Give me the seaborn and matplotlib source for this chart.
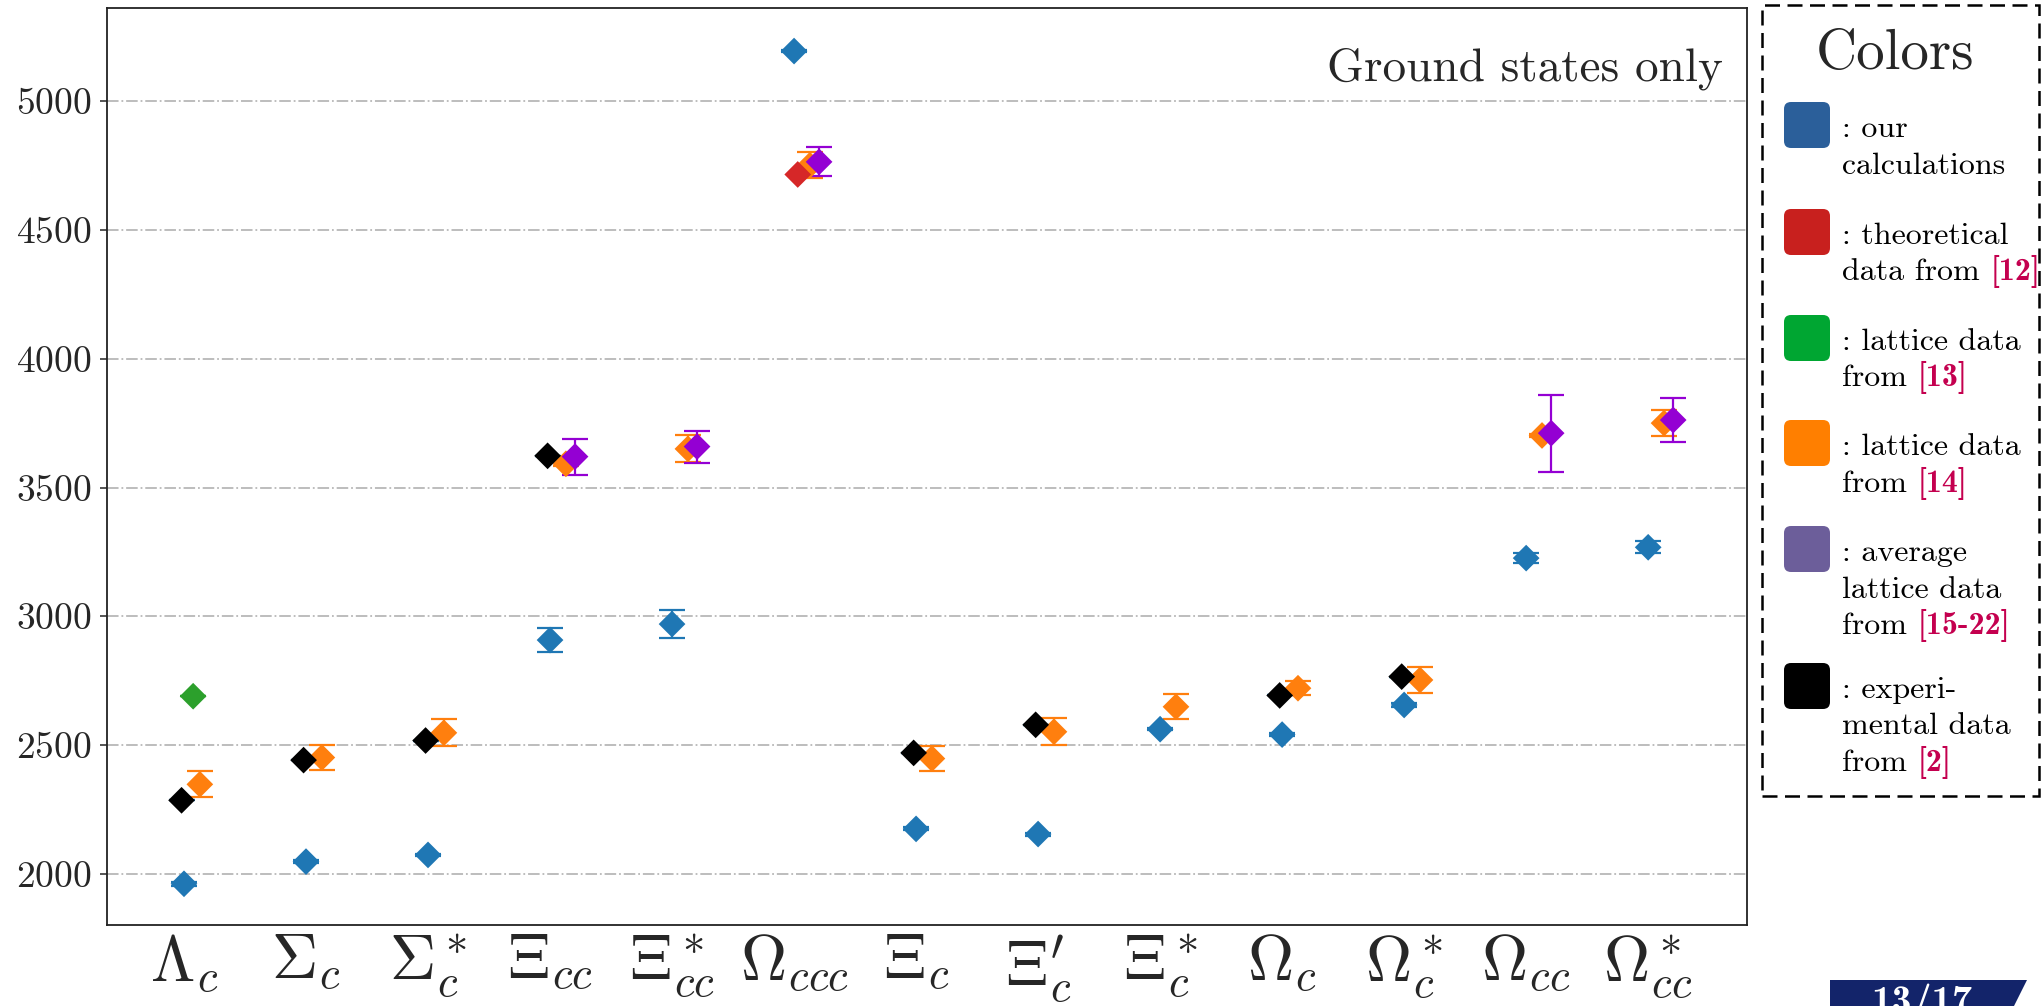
import numpy as np
import pandas as pd
import matplotlib
matplotlib.use("Agg")
import matplotlib.pyplot as plt
import seaborn as sns
from matplotlib.patches import FancyBboxPatch, Rectangle, Polygon
from matplotlib.transforms import IdentityTransform

# ---------------- data ----------------
categories = [r'$\Lambda_c$', r'$\Sigma_c$', r'$\Sigma_c^*$', r'$\Xi_{cc}$', r'$\Xi_{cc}^*$',
              r'$\Omega_{ccc}$', r'$\Xi_c$', r"$\Xi_c'$", r'$\Xi_c^*$', r'$\Omega_c$',
              r'$\Omega_c^*$', r'$\Omega_{cc}$', r'$\Omega_{cc}^*$']
nan = np.nan
ours_mass = [1962, 2048, 2074, 2908, 2970, 5194, 2175, 2155, 2562, 2541, 2656, 3226, 3268]
ours_err = [7, 6, 5, 47, 56, 5, 6, 6, 5, 6, 6, 20, 23]
theory12_mass = [nan, nan, nan, nan, nan, 4715, nan, nan, nan, nan, nan, nan, nan]
theory12_err = [nan] * 13
lattice13_mass = [2690, nan, nan, nan, nan, nan, nan, nan, nan, nan, nan, nan, nan]
lattice13_err = [0, nan, nan, nan, nan, nan, nan, nan, nan, nan, nan, nan, nan]
lattice14_mass = [2348, 2452, 2548, 3592, 3650, 4751, 2448, 2552, 2649, 2721, 2753, 3702, 3750]
lattice14_err = [50, 49, 52, 10, 52, 51, 50, 53, 48, 27, 52, 6, 49]
average_mass = [nan, nan, nan, 3620, 3659, 4764, nan, nan, nan, nan, nan, 3711, 3762]
average_err = [nan, nan, nan, 70, 62, 56, nan, nan, nan, nan, nan, 149, 86]
exp_mass = [2286, 2442, 2518, 3623, nan, nan, 2470, 2579, nan, 2693, 2766, nan, nan]
exp_err = [0, 0, 0, 0, nan, nan, 0, 0, nan, 0, 0, nan, nan]

sources = ["ours", "lattice13", "lattice14", "theory12", "exp", "average"]
series = {
    "ours": (ours_mass, ours_err),
    "lattice13": (lattice13_mass, lattice13_err),
    "lattice14": (lattice14_mass, lattice14_err),
    "theory12": (theory12_mass, theory12_err),
    "exp": (exp_mass, exp_err),
    "average": (average_mass, average_err),
}
# style (not data)
offsets = {"ours": 0.0, "theory12": 0.03, "lattice13": 0.075, "lattice14": 0.13,
           "exp": -0.02, "average": 0.205}
marker_colors = {"ours": "#1f77b4", "theory12": "#d62728", "lattice13": "#2ca02c",
                 "lattice14": "#ff7f0e", "exp": "#000000", "average": "#9400d3"}
err_colors = {"ours": "#1f77b4", "theory12": None, "lattice13": "#2ca02c",
              "lattice14": "#ff7f0e", "exp": "#1f77b4", "average": "#9400d3"}

rows = []
for s in sources:
    m, e = series[s]
    for i, (mv, ev) in enumerate(zip(m, e)):
        if not np.isnan(mv):
            rows.append({"cat": i, "x": i + offsets[s], "mass": mv, "err": ev, "source": s})
df = pd.DataFrame(rows)

# ---------------- style ----------------
sns.set_style("white")
plt.rcParams["font.family"] = ["cmr10", "DejaVu Serif"]
plt.rcParams["mathtext.fontset"] = "cm"
plt.rcParams["axes.unicode_minus"] = False
plt.rcParams["axes.formatter.use_mathtext"] = True

W, H = 2043, 1006
fig = plt.figure(figsize=(W / 100, H / 100), dpi=100)
fig.patch.set_facecolor("white")
ax = fig.add_axes([107 / W, 1 - 925 / H, (1747 - 107) / W, (925 - 8.3) / H])

# grid
ax.set_axisbelow(True)
ax.yaxis.grid(True, linestyle="-.", color="#b8b8b8", linewidth=1.3)
ax.xaxis.grid(False)

# error bars
for s in sources:
    d = df[df["source"] == s]
    if err_colors[s] is None or d["err"].isna().all():
        continue
    ax.errorbar(d["x"], d["mass"], yerr=d["err"].fillna(0), fmt="none",
                ecolor=err_colors[s], elinewidth=1.6, capsize=9.5, capthick=1.6, zorder=2)

# markers
sns.scatterplot(data=df, x="x", y="mass", hue="source", palette=marker_colors,
                hue_order=sources, marker="D", s=185, linewidth=0, legend=False,
                ax=ax, zorder=3)

ax.set_xlim(-0.631, 12.81)
ax.set_ylim(1802, 5360)
ax.set_xticks(range(len(categories)))
ax.set_xticklabels(categories, fontsize=46)
ax.set_yticks([2000, 2500, 3000, 3500, 4000, 4500, 5000])
ax.tick_params(axis="y", labelsize=27, length=5, width=1.1, direction="out", left=True, pad=6)
ax.tick_params(axis="x", length=0, pad=6)
ax.set_xlabel("")
ax.set_ylabel("")
for sp in ax.spines.values():
    sp.set_color("#222222")
    sp.set_linewidth(1.3)

ax.text(0.985, 0.921, "Ground states only", transform=ax.transAxes, ha="right",
        va="baseline", fontsize=34)

# ---------------- legend box ----------------
T = IdentityTransform()
fig.add_artist(Rectangle((1762, H - 796), 2039 - 1762, 796 - 5, transform=T, fill=False,
                         linestyle=(0, (6, 3)), linewidth=1.8, edgecolor="black"))
fig.text(1895, H - 69, "Colors", transform=T, ha="center", va="baseline", fontsize=41)

legend_entries = [
    ("#2B5F9A", [[(": our", False)], [("calculations", False)]]),
    ("#C8201E", [[(": theoretical", False)], [("data from", False), ("[12]", True)]]),
    ("#00A632", [[(": lattice data", False)], [("from", False), ("[13]", True)]]),
    ("#FF7F00", [[(": lattice data", False)], [("from", False), ("[14]", True)]]),
    ("#6C5E9A", [[(": average", False)], [("lattice data", False)], [("from", False), ("[15-22]", True)]]),
    ("#000000", [[(": experi-", False)], [("mental data", False)], [("from", False), ("[2]", True)]]),
]
swatch_centers = [125, 232, 338, 443, 549, 686]
fs_leg = 23
space_px = 0.333 * fs_leg * 100 / 72
renderer = fig.canvas.get_renderer()
for (col, lines), yc in zip(legend_entries, swatch_centers):
    fig.add_artist(FancyBboxPatch((1784 + 7, H - (yc + 23) + 7), 46 - 14, 46 - 14,
                                  boxstyle="round,pad=7", transform=T,
                                  facecolor=col, edgecolor="none"))
    base = yc + 12
    for li, parts in enumerate(lines):
        x = 1842
        yb = H - (base + li * 36.5)
        for txt, is_ref in parts:
            t = fig.text(x, yb, txt, transform=T, ha="left", va="baseline",
                         fontsize=fs_leg,
                         family="cmb10" if is_ref else "cmr10",
                         color="#C4004F" if is_ref else "black")
            w = t.get_window_extent(renderer).width
            x = x + w + space_px

# ---------------- page badge ----------------
fig.add_artist(Polygon([(1830, H - 980), (2027, H - 980), (2011, H - 1012), (1830, H - 1012)],
                       closed=True, transform=T, facecolor="#13246A", edgecolor="none"))
fig.text(1922, H - 1013, "13/17", transform=T, ha="center", va="baseline",
         fontsize=29, family="cmb10", color="white")

fig.savefig("out.png", dpi=100)
